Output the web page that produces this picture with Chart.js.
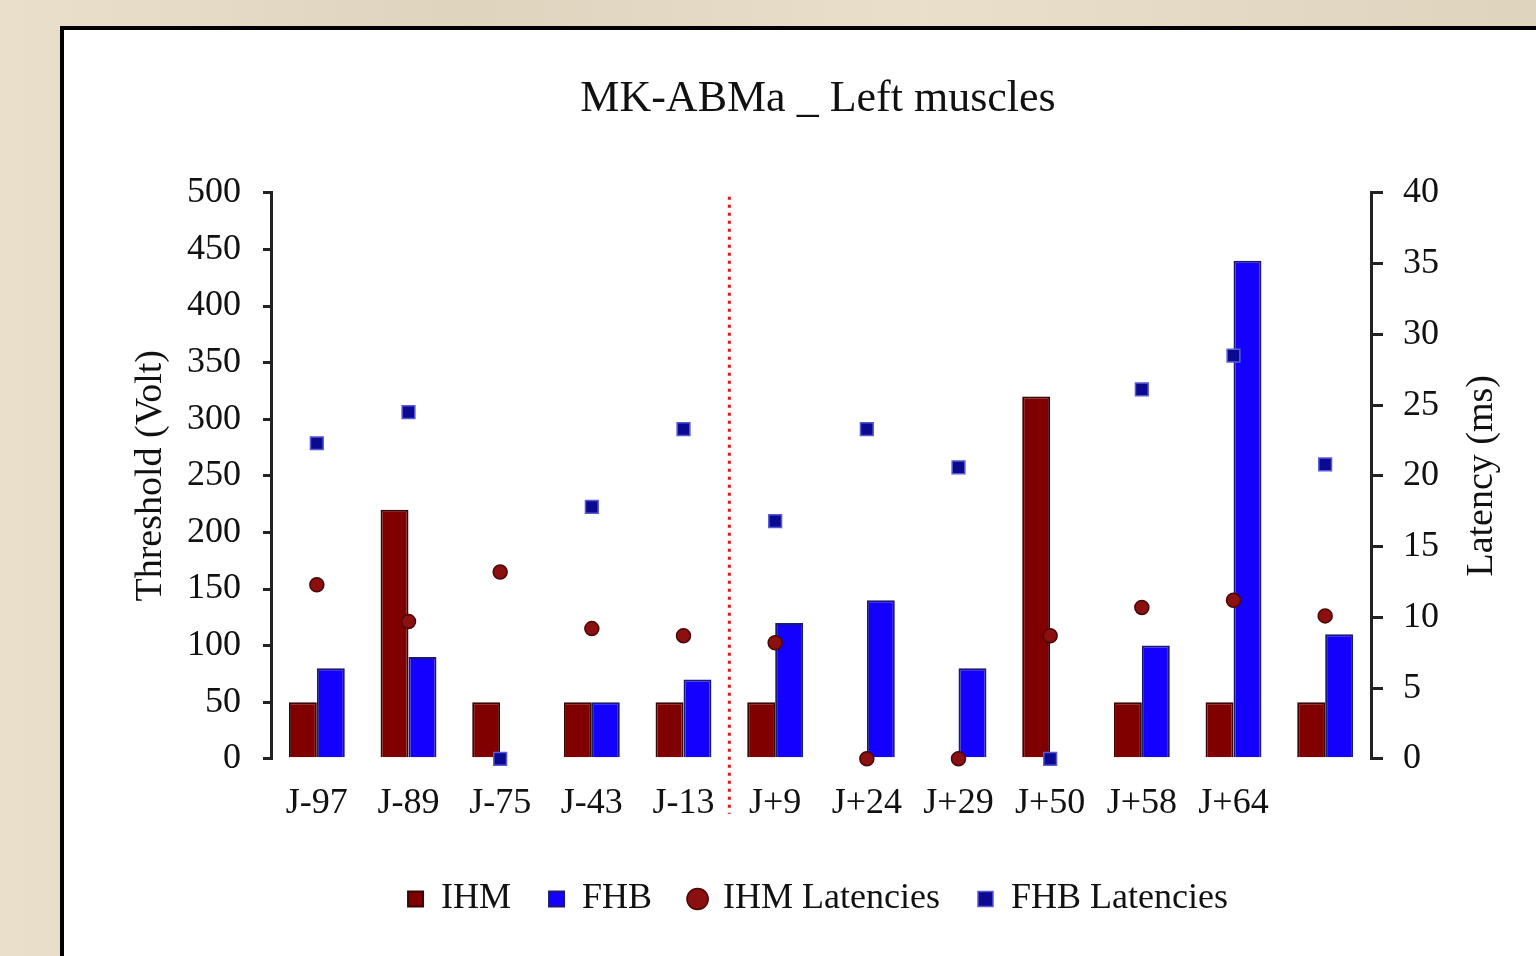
<!DOCTYPE html>
<html>
<head>
<meta charset="utf-8">
<script src="https://cdn.jsdelivr.net/npm/chart.js@4.4.0/dist/chart.umd.min.js"></script>
<style>
  html, body { margin: 0; padding: 0; }
  body {
    width: 1536px; height: 956px; overflow: hidden; position: relative;
    background: #e6dbc4;
    background-image: linear-gradient(90deg, rgba(255,255,255,0.12), rgba(0,0,0,0.03) 30%, rgba(255,255,255,0.1) 60%, rgba(0,0,0,0.03));
  }
  #box {
    position: absolute; left: 60px; top: 26px; width: 1600px; height: 1000px;
    background: #fff; border: 4px solid #000; box-sizing: border-box;
  }
  #chart1 { position: absolute; left: 0; top: 0; }
</style>
</head>
<body>
<div id="box"></div>
<canvas id="chart1" width="1536" height="956"></canvas>
<script>
// valeurs
var days = ['J-97', 'J-89', 'J-75', 'J-43', 'J-13', 'J+9', 'J+24', 'J+29', 'J+50', 'J+58', 'J+64', ''];
var ihm = [50, 220, 50, 50, 50, 50, 0, 0, 320, 50, 50, 50];
var fhb = [80, 90, 0, 50, 70, 120, 140, 80, 0, 100, 440, 110];
var ihmLat = [12.3, 9.7, 13.2, 9.2, 8.7, 8.2, 0, 0, 8.7, 10.7, 11.2, 10.1];
var fhbLat = [22.3, 24.5, 0, 17.8, 23.3, 16.8, 23.3, 20.6, 0, 26.1, 28.5, 20.8];
var separateur = 4.5; // entre J-13 et J+9

var serif = '"Liberation Serif", "Times New Roman", serif';

// ligne rouge pointillée + titre de l'axe droit (lu de bas en haut)
var extras = {
    id: 'extras',
    afterDatasetsDraw: function(chart) {
        var ctx = chart.ctx;
        var x = chart.scales.x.getPixelForValue(separateur);
        var area = chart.chartArea;
        ctx.save();
        ctx.strokeStyle = '#e0161b';
        ctx.lineWidth = 3;
        ctx.setLineDash([3, 5]);
        ctx.beginPath();
        ctx.moveTo(x, area.top + 4);
        ctx.lineTo(x, area.bottom + 55);
        ctx.stroke();
        ctx.restore();
    },
    afterDraw: function(chart) {
        var ctx = chart.ctx;
        var y1 = chart.scales.y1;
        ctx.save();
        ctx.translate(y1.left + 111, (y1.top + y1.bottom) / 2);
        ctx.rotate(-Math.PI / 2);
        ctx.font = '38px ' + serif;
        ctx.fillStyle = '#111';
        ctx.textAlign = 'center';
        ctx.textBaseline = 'middle';
        ctx.fillText('Latency (ms)', 0, 0);
        ctx.restore();
    }
};

var ctx = document.getElementById('chart1').getContext('2d');
var myChart = new Chart(ctx, {
    type: 'bar',
    data: {
        labels: days,
        datasets: [{
            label: 'IHM',
            data: ihm,
            backgroundColor: '#800000',
            borderColor: '#3a0505',
            borderWidth: 2,
            pointStyle: 'rect',
            yAxisID: 'y',
            order: 2
        }, {
            label: 'FHB',
            data: fhb,
            backgroundColor: '#1400ff',
            borderColor: '#1a1a6e',
            borderWidth: 2,
            pointStyle: 'rect',
            yAxisID: 'y',
            order: 2
        }, {
            type: 'line',
            label: 'IHM Latencies',
            data: ihmLat,
            showLine: false,
            pointStyle: 'circle',
            pointRadius: 7,
            backgroundColor: '#8c1010',
            borderColor: '#4a0808',
            borderWidth: 1.5,
            yAxisID: 'y1',
            clip: false,
            order: 1
        }, {
            type: 'line',
            label: 'FHB Latencies',
            data: fhbLat,
            showLine: false,
            pointStyle: 'rect',
            pointRadius: 9,
            backgroundColor: '#0a0a90',
            borderColor: '#5a5ad8',
            borderWidth: 1.5,
            yAxisID: 'y1',
            clip: false,
            order: 1
        }]
    },
    options: {
        responsive: false,
        animation: false,
        devicePixelRatio: 1,
        layout: { padding: { left: 100, right: 0, top: 0, bottom: 29 } },
        datasets: {
            bar: { categoryPercentage: 0.61, barPercentage: 1.0 }
        },
        plugins: {
            tooltip: { enabled: false },
            title: {
                display: true,
                text: 'MK-ABMa _ Left muscles',
                color: '#111',
                font: { family: serif, size: 44, weight: 'normal' },
                padding: { top: 73, bottom: 67 }
            },
            legend: {
                position: 'bottom',
                labels: {
                    color: '#111',
                    font: { family: serif, size: 36 },
                    usePointStyle: true,
                    boxWidth: 15,
                    boxHeight: 15,
                    padding: 38,
                    sort: function(a, b) { return a.datasetIndex - b.datasetIndex; }
                }
            }
        },
        scales: {
            x: {
                grid: { display: false, drawTicks: false },
                border: { display: false },
                ticks: { color: '#111', font: { family: serif, size: 36 }, padding: 23, maxRotation: 0, autoSkip: false },
                afterFit: function(scale) { scale.height = scale.height - 5; }
            },
            y: {
                position: 'left',
                min: 0, max: 500,
                ticks: { stepSize: 50, color: '#111', font: { family: serif, size: 36 }, padding: 22 },
                grid: { drawOnChartArea: false, tickLength: 8, color: '#222', lineWidth: 3 },
                border: { display: true, color: '#222', width: 3 },
                title: {
                    display: true,
                    text: 'Threshold (Volt)',
                    color: '#111',
                    font: { family: serif, size: 38 },
                    padding: { top: 28, bottom: 0 }
                },
                afterFit: function(scale) { scale.width = 171; }
            },
            y1: {
                position: 'right',
                min: 0, max: 40,
                ticks: { stepSize: 5, color: '#111', font: { family: serif, size: 36 }, padding: 20 },
                grid: { drawOnChartArea: false, tickLength: 12, color: '#222', lineWidth: 3 },
                border: { display: true, color: '#222', width: 3 },
                afterFit: function(scale) { scale.width = 165; }
            }
        }
    },
    plugins: [extras]
});
</script>
</body>
</html>
